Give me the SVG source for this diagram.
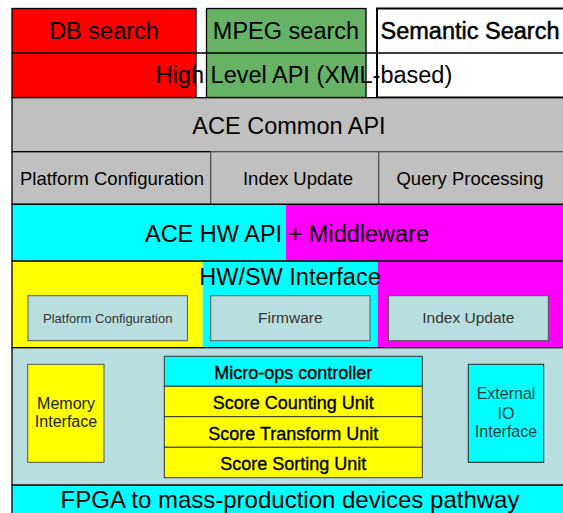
<svg xmlns="http://www.w3.org/2000/svg" width="563" height="513" viewBox="0 0 563 513">
<style>
text{font-family:"Liberation Sans",Arial,sans-serif;text-anchor:middle;fill:#000}
.big{font-size:23.5px}
.mid{font-size:18.5px}
.unit{font-size:18px;stroke:#000;stroke-width:0.35}
.sm{font-size:15.5px;fill:#333}
.blk{stroke:#000;stroke-width:1.3}
.thin{stroke:#333;stroke-width:1}
.sub{fill:#B8DEE0;stroke:#555;stroke-width:1}
</style>
<rect x="0" y="0" width="563" height="513" fill="#fff"/>
<g id="db-search">
<rect x="12" y="8.5" width="184" height="89" fill="#FF0000" class="blk"/>
<text class="big" x="104" y="39">DB search</text>
</g>
<g id="mpeg-search">
<rect x="206.5" y="8.5" width="159.5" height="89" fill="#66B366" class="blk"/>
<text class="big" x="286" y="39">MPEG search</text>
</g>
<g id="semantic-search">
<rect x="377" y="8.5" width="190" height="89" fill="#fff" stroke="#000" stroke-width="2"/>
<text class="big" x="470" y="39" style="stroke:#000;stroke-width:0.5">Semantic Search</text>
</g>
<g id="high-level-api">
<line x1="12" y1="53" x2="563" y2="53" stroke="#000" stroke-width="1.5"/>
<text class="big" x="304" y="82.5">High Level API (XML-based)</text>
</g>
<g id="ace-common-api">
<rect x="12" y="97.7" width="555" height="54" fill="#C0C0C0" class="blk"/>
<text class="big" x="289" y="134">ACE Common API</text>
</g>
<g id="common-platform-config">
<rect x="12" y="151.7" width="198.7" height="52.6" fill="#C0C0C0" class="blk"/>
<text class="mid" x="112" y="184.5">Platform Configuration</text>
</g>
<g id="common-index-update">
<rect x="210.7" y="151.7" width="168" height="52.6" fill="#C0C0C0" class="blk" style="stroke:#555"/>
<text class="mid" x="298" y="184.5">Index Update</text>
</g>
<g id="common-query-processing">
<rect x="378.7" y="151.7" width="188" height="52.6" fill="#C0C0C0" class="blk" style="stroke:#555"/>
<text class="mid" x="470" y="184.5">Query Processing</text>
</g>
<g id="ace-hw-api">
<rect x="12" y="204.3" width="274" height="56.8" fill="#00FFFF"/>
<rect x="286" y="204.3" width="281" height="56.8" fill="#FF00FF"/>
<rect x="12" y="204.3" width="555" height="56.8" fill="none" class="blk"/>
<text class="big" x="287" y="241.7">ACE HW API + Middleware</text>
</g>
<g id="hw-sw-interface">
<rect x="12" y="261.1" width="190.7" height="86.6" fill="#FFFF00"/>
<rect x="202.7" y="261.1" width="175" height="86.6" fill="#00FFFF"/>
<rect x="377.7" y="261.1" width="189" height="86.6" fill="#FF00FF"/>
<rect x="12" y="261.1" width="555" height="86.6" fill="none" class="blk"/>
<text class="big" x="290" y="285">HW/SW Interface</text>
</g>
<g id="hwsw-platform-config">
<rect x="28" y="295.7" width="159.4" height="45" class="sub"/>
<text x="107.7" y="323" style="font-size:13px;fill:#333">Platform Configuration</text>
</g>
<g id="firmware">
<rect x="210.7" y="295.7" width="159.3" height="45" class="sub"/>
<text class="sm" x="290.3" y="323.3">Firmware</text>
</g>
<g id="hwsw-index-update">
<rect x="388.5" y="295.7" width="159.8" height="45" class="sub"/>
<text class="sm" x="468.4" y="323.3">Index Update</text>
</g>
<g id="hardware-layer">
<rect x="12" y="347.7" width="555" height="137.5" fill="#B8DEE0" class="blk"/>
</g>
<g id="memory-interface">
<rect x="27.7" y="364.3" width="76.3" height="98" fill="#FFFF00" stroke="#555" stroke-width="1"/>
<text x="66" y="409" style="font-size:16px;fill:#222">Memory</text>
<text x="66" y="427.3" style="font-size:16px;fill:#222">Interface</text>
</g>
<g id="micro-ops-controller">
<rect x="164.3" y="356.3" width="258" height="30" fill="#00FFFF" class="thin"/>
<text class="unit" x="293.3" y="379.3">Micro-ops controller</text>
</g>
<g id="score-counting-unit">
<rect x="164.3" y="386.3" width="258" height="30.4" fill="#FFFF00" class="thin"/>
<text class="unit" x="293.3" y="408.5">Score Counting Unit</text>
</g>
<g id="score-transform-unit">
<rect x="164.3" y="416.7" width="258" height="30.6" fill="#FFFF00" class="thin"/>
<text class="unit" x="293.3" y="440">Score Transform Unit</text>
</g>
<g id="score-sorting-unit">
<rect x="164.3" y="447.3" width="258" height="30.4" fill="#FFFF00" class="thin"/>
<text class="unit" x="293.3" y="470">Score Sorting Unit</text>
</g>
<g id="external-io-interface">
<rect x="468.3" y="364.3" width="75.4" height="98" fill="#00FFFF" stroke="#222" stroke-width="1"/>
<text x="506" y="399.3" style="font-size:16px;fill:#1F3F3F">External</text>
<text x="506" y="418.7" style="font-size:16px;fill:#1F3F3F">IO</text>
<text x="506" y="437.3" style="font-size:16px;fill:#1F3F3F">Interface</text>
</g>
<g id="fpga-pathway">
<rect x="12" y="485.2" width="555" height="30" fill="#00FFFF" class="blk"/>
<text class="big" x="290" y="508.3" style="font-size:24px">FPGA to mass-production devices pathway</text>
</g>
<g id="connectors"/>
</svg>
